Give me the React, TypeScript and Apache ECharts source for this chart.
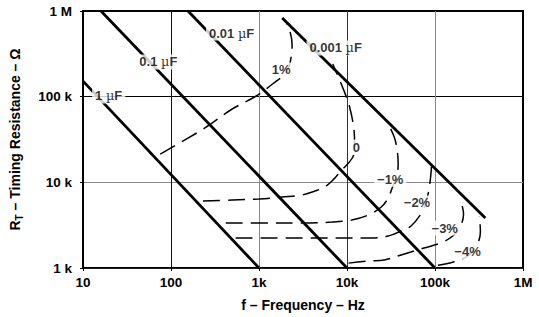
import React, { useEffect, useRef } from 'react';
import * as echarts from 'echarts';

// Axis ticks
const freqTickValues = [10, 100, 1000, 10000, 100000, 1000000];
const freqTickLabels = ['10', '100', '1k', '10k', '100k', '1M'];
const resTickValues = [1000, 10000, 100000, 1000000];
const resTickLabels = ['1 k', '10 k', '100 k', '1 M'];

// Timing-capacitor lines (frequency Hz, resistance Ω)
const capNames = ['1 µF', '0.1 µF', '0.01 µF', '0.001 µF'];
const capFreq = [
  [10, 1000],
  [16, 10000],
  [156, 100000],
  [1836, 373000],
];
const capRes = [
  [152000, 1000],
  [1000000, 1000],
  [1000000, 1000],
  [828000, 3840],
];
const capLabelFreq = [19.6, 71.8, 489, 7450];
const capLabelRes = [102000, 254000, 553000, 370000];

// Drift contours
const driftNames = ['1%', '0', '−1%', '−2%', '−3%', '−4%'];
const drift1Freq = [75.5, 243, 476, 888, 1244, 1570, 1932, 2199, 2317, 2377, 2259, 1983];
const drift1Res = [21400, 43100, 69900, 99100, 126000, 152000, 179000, 228000, 290000, 401000, 569000, 785000];
const drift0Freq = [231, 501, 1011, 1834, 3081, 4316, 5595, 7067, 8690, 10400, 11900, 12200, 11900, 10700, 9160, 6890];
const drift0Res = [6050, 6220, 6390, 6740, 7110, 7920, 8820, 10900, 13900, 16800, 20800, 28800, 44200, 75700, 120000, 241000];
const driftM1Freq = [419, 1092, 3081, 6710, 11300, 17500, 24500, 29400, 32600, 37100, 38100, 37100, 34400, 27900];
const driftM1Res = [3350, 3350, 3350, 3440, 3630, 4160, 5150, 6560, 8590, 12200, 16800, 23800, 33800, 53400];
const driftM2Freq = [542, 3081, 18900, 29400, 41200, 53400, 69200, 78800, 85100, 89700, 92000];
const driftM2Res = [2240, 2240, 2240, 2360, 2700, 3090, 4270, 5740, 8130, 12200, 18200];
const driftM3Freq = [10400, 17500, 26500, 41200, 74800, 116000, 159000, 195000, 211000, 195000];
const driftM3Res = [1140, 1210, 1240, 1420, 1710, 1960, 2360, 3090, 4270, 6220];
const driftM4Freq = [108000, 159000, 234000, 296000, 328000, 320000];
const driftM4Res = [1080, 1170, 1380, 1810, 2630, 4050];
const driftLabelFreq = [1786, 12800, 31000, 62400, 129000, 234000];
const driftLabelRes = [205000, 25800, 10900, 5740, 2930, 1540];

const FONT = 'Liberation Sans, Arial, sans-serif';

function zip(a: number[], b: number[]) {
  return a.map((v, i) => [v, b[i]]);
}

function tickLabel(values: number[], labels: string[], v: number) {
  let best = 0;
  let bd = Infinity;
  values.forEach((t, i) => {
    const d = Math.abs(Math.log10(t) - Math.log10(v));
    if (d < bd) {
      bd = d;
      best = i;
    }
  });
  return bd < 0.01 ? labels[best] : '';
}

function richLabel(s: string) {
  if (s.indexOf('µ') < 0) return '{b|' + s + '}';
  const [pre, post] = s.split('µ');
  return '{b|' + pre + '}{m|µ}{b|' + post + '}';
}

export default function App() {
  const ref = useRef<HTMLDivElement>(null);
  useEffect(() => {
    if (!ref.current) return;
    const chart = echarts.init(ref.current, null, { renderer: 'svg' });

    const driftFreqs = [drift1Freq, drift0Freq, driftM1Freq, driftM2Freq, driftM3Freq, driftM4Freq];
    const driftRess = [drift1Res, drift0Res, driftM1Res, driftM2Res, driftM3Res, driftM4Res];

    const capSeries = capNames.map((n, i) => ({
      name: n,
      type: 'line',
      data: zip(capFreq[i], capRes[i]),
      showSymbol: false,
      symbol: 'none',
      lineStyle: { color: '#000', width: 2.8 },
      z: 3,
    }));
    const driftSeries = driftNames.map((n, i) => ({
      name: 'drift ' + n,
      type: 'line',
      data: zip(driftFreqs[i], driftRess[i]),
      showSymbol: false,
      symbol: 'none',
      smooth: 0.35,
      lineStyle: { color: '#000', width: 1.5, type: [17, 8] },
      z: 2,
    }));
    const labelStyle = {
      show: true,
      position: 'inside',
      formatter: (p: any) => richLabel(p.data[2]),
      backgroundColor: '#fff',
      padding: [1, 3],
      rich: {
        b: { fontFamily: FONT, fontWeight: 'bold', fontSize: 13, color: '#000' },
        m: { fontFamily: 'DejaVu Serif, serif', fontWeight: 'normal', fontSize: 13, color: '#000' },
      },
    };
    const capLabelSeries = {
      type: 'scatter',
      symbolSize: 0,
      data: capNames.map((n, i) => [capLabelFreq[i], capLabelRes[i], n]),
      label: labelStyle,
      z: 10,
      silent: true,
    };
    const driftLabelSeries = {
      type: 'scatter',
      symbolSize: 0,
      data: driftNames.map((n, i) => [driftLabelFreq[i], driftLabelRes[i], n]),
      label: labelStyle,
      z: 10,
      silent: true,
    };

    chart.setOption({
      animation: false,
      backgroundColor: '#fff',
      grid: {
        left: 79,
        right: 16,
        top: 11,
        bottom: 49,
        show: true,
        borderColor: '#000',
        borderWidth: 2,
        backgroundColor: 'transparent',
      },
      xAxis: {
        type: 'log',
        logBase: 10,
        min: 10,
        max: 1000000,
        name: 'f – Frequency – Hz',
        nameLocation: 'middle',
        nameGap: 30,
        nameTextStyle: { fontFamily: FONT, fontWeight: 'bold', fontSize: 14, color: '#000' },
        axisLine: { show: false },
        axisTick: { show: true, length: 3, lineStyle: { color: '#000' } },
        axisLabel: {
          fontFamily: FONT,
          fontWeight: 'bold',
          fontSize: 13.5,
          color: '#000',
          margin: 7,
          formatter: (v: number) => tickLabel(freqTickValues, freqTickLabels, v),
        },
        minorTick: { show: false },
        splitLine: {
          show: true,
          lineStyle: { color: ['#000', '#111', '#888', '#333', '#888', '#000'], width: 1 },
        },
      },
      yAxis: {
        type: 'log',
        logBase: 10,
        min: 1000,
        max: 1000000,
        name: '{n|R}{s|T}{n| – Timing Resistance – Ω}',
        nameLocation: 'middle',
        nameGap: 59,
        nameTextStyle: {
          fontFamily: FONT,
          fontWeight: 'bold',
          fontSize: 14,
          color: '#000',
          rich: {
            n: { fontFamily: FONT, fontWeight: 'bold', fontSize: 14, color: '#000', lineHeight: 18 },
            s: { fontFamily: FONT, fontWeight: 'bold', fontSize: 10, color: '#000', verticalAlign: 'bottom', lineHeight: 10 },
          },
        },
        axisLine: { show: false },
        axisTick: { show: true, length: 3, lineStyle: { color: '#000' } },
        axisLabel: {
          fontFamily: FONT,
          fontWeight: 'bold',
          fontSize: 13.5,
          color: '#000',
          margin: 11,
          formatter: (v: number) => tickLabel(resTickValues, resTickLabels, v),
        },
        minorTick: { show: false },
        splitLine: {
          show: true,
          lineStyle: { color: ['#000', '#222', '#888', '#000'], width: 1 },
        },
      },
      series: [...driftSeries, ...capSeries, capLabelSeries, driftLabelSeries],
    });
    return () => chart.dispose();
  }, []);
  return (
    <div
      ref={ref}
      style={{ position: 'fixed', left: 0, top: 0, width: 539, height: 317, background: '#fff' }}
    />
  );
}
